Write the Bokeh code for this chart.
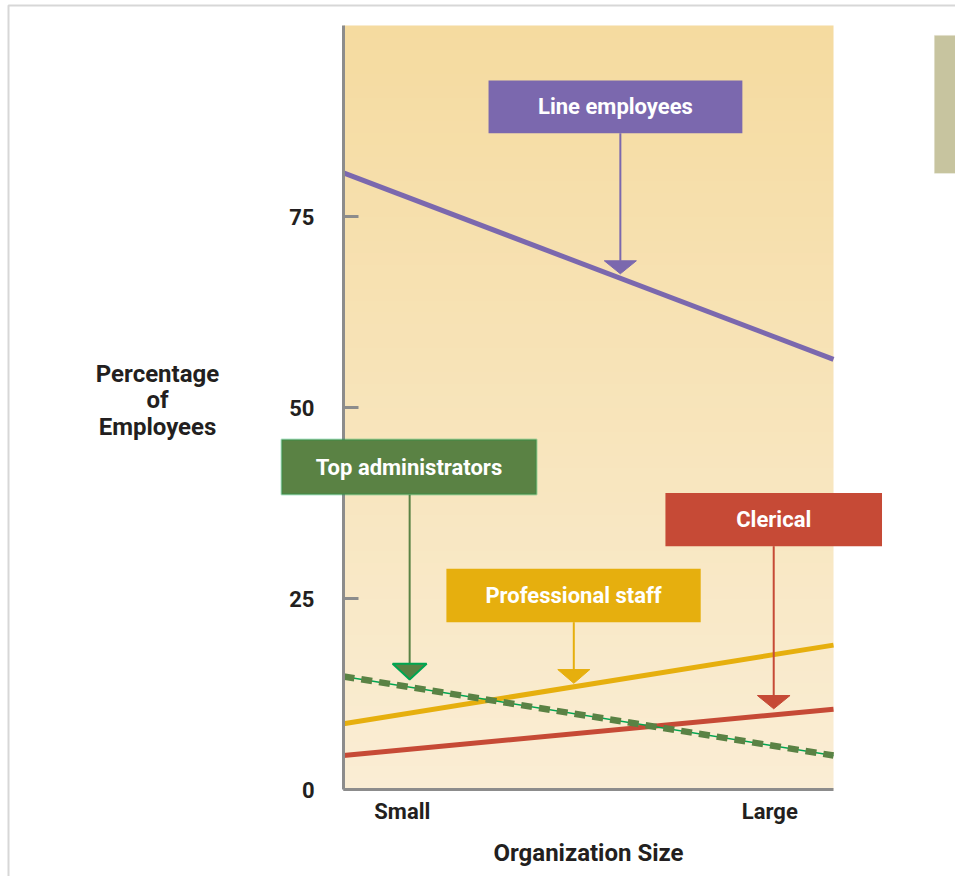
import numpy as np
from bokeh.plotting import figure
from bokeh.models import Range1d, FixedTicker, BoxAnnotation, Label
from bokeh.embed import file_html
from bokeh.resources import INLINE

# ---------------- data ----------------
size_x = [0, 100]                      # organization size scale (small -> large)
size_ticks = [12, 87]
size_tick_labels = ["Small", "Large"]
pct_ticks = [0, 25, 50, 75]

line_employees = [80.7, 56.3]
professional_staff = [8.6, 18.9]
clerical = [4.45, 10.5]
top_administrators = [14.8, 4.45]

series_names = ["Line employees", "Top administrators", "Professional staff", "Clerical"]

# ---------------- styling / layout ----------------
FONT = "Roboto"
PURPLE = "#7B68AE"
GOLD = "#E6AF0E"
RED = "#C64A36"
GREEN = "#5A8244"
BRIGHT_GREEN = "#00A651"
AXIS_GRAY = "#8C8C8C"
TEXT = "#231F20"

W, H = 955, 876
# plotting region (0..100 x 0..100) placed in the canvas
PX_X0, PX_X1 = 343, 833
PX_Y100, PX_Y0 = 25, 789
sx = (PX_X1 - PX_X0) / 100.0
sy = (PX_Y0 - PX_Y100) / 100.0

# callout layout: box (left, right, top, bottom), stem x, triangle top, tip, half width
callouts = [
    dict(name=series_names[0], fill=PURPLE, border=None, box=(29.6, 81.4, 92.8, 85.9),
         stem=56.5, tri_top=69.2, tip=67.5, hw=3.27),
    dict(name=series_names[1], fill=GREEN, border=BRIGHT_GREEN, box=(-12.65, 39.4, 45.8, 38.6),
         stem=13.5, tri_top=16.45, tip=14.4, hw=3.47),
    dict(name=series_names[2], fill=GOLD, border=None, box=(21.0, 72.9, 28.9, 21.9),
         stem=47.0, tri_top=15.7, tip=13.9, hw=3.27),
    dict(name=series_names[3], fill=RED, border=None, box=(65.7, 109.9, 38.8, 31.85),
         stem=87.8, tri_top=12.3, tip=10.56, hw=3.33),
]

p = figure(width=W, height=H, output_backend="svg", toolbar_location=None,
           x_range=Range1d(-PX_X0 / sx, (W - PX_X0) / sx),
           y_range=Range1d(-(H - PX_Y0) / sy, 100 + PX_Y100 / sy),
           min_border=0, min_border_left=0, min_border_right=0,
           min_border_top=0, min_border_bottom=0)
p.outline_line_color = None
p.grid.visible = False
p.background_fill_color = "white"
p.border_fill_color = "white"

# background gradient of the plotting area
n = 64
t = np.linspace(0, 1, n)
bottom_c = np.array([250, 237, 212], dtype=float)
top_c = np.array([245, 219, 160], dtype=float)
rgb = bottom_c[None, :] + (top_c - bottom_c)[None, :] * t[:, None]
img = np.empty((n, 1), dtype=np.uint32)
view = img.view(dtype=np.uint8).reshape((n, 1, 4))
view[:, 0, :3] = np.round(rgb).astype(np.uint8)
view[:, 0, 3] = 255
p.image_rgba(image=[img], x=0, y=0, dw=100, dh=100, level="image")

# series lines
p.line(size_x, line_employees, line_color=PURPLE, line_width=5)
p.line(size_x, professional_staff, line_color=GOLD, line_width=5)
p.line(size_x, clerical, line_color=RED, line_width=5)
p.line(size_x, top_administrators, line_color=BRIGHT_GREEN, line_width=1.5)
p.line(size_x, top_administrators, line_color=GREEN, line_width=6.5, line_dash="11 7")

# callouts
for c in callouts:
    l, r, tp, b = c["box"]
    p.segment(x0=[c["stem"]], y0=[b], x1=[c["stem"]], y1=[c["tri_top"]],
              line_color=c["fill"], line_width=2)
    xs = [c["stem"] - c["hw"], c["stem"] + c["hw"], c["stem"]]
    ys = [c["tri_top"], c["tri_top"], c["tip"]]
    p.patch(xs, ys, fill_color=c["fill"],
            line_color=c["border"] if c["border"] else c["fill"],
            line_width=2 if c["border"] else 1)
    p.add_layout(BoxAnnotation(left=l, right=r, top=tp, bottom=b,
                               fill_color=c["fill"], fill_alpha=1.0,
                               line_color=c["border"], line_width=2 if c["border"] else 0,
                               level="annotation"))
    p.add_layout(Label(x=(l + r) / 2, y=(tp + b) / 2, text=c["name"],
                       text_align="center", text_baseline="middle",
                       text_color="white", text_font=FONT, text_font_style="bold",
                       text_font_size="22px", level="annotation"))

# decorative frame edge and side tab
p.add_layout(BoxAnnotation(left=(8 - PX_X0) / sx, right=400, top=(PX_Y0 - 5) / sy, bottom=-200,
                           fill_alpha=0, line_color="#7A7A7A", line_width=2))
p.add_layout(BoxAnnotation(left=120.6, right=130, top=98.7, bottom=80.65,
                           fill_color="#C7C49F", fill_alpha=1.0,
                           line_color="#DAD8C0", line_width=1))

# axes (drawn at the data origin)
ya = p.yaxis[0]
ya.fixed_location = 0
ya.bounds = (0, 100)
ya.ticker = FixedTicker(ticks=pct_ticks)
ya.axis_line_color = AXIS_GRAY
ya.axis_line_width = 3
ya.major_tick_line_color = AXIS_GRAY
ya.major_tick_line_width = 3
ya.major_tick_in = 15
ya.major_tick_out = 0
ya.minor_tick_line_color = None
ya.major_label_standoff = 29
ya.major_label_text_font = FONT
ya.major_label_text_font_style = "bold"
ya.major_label_text_font_size = "22px"
ya.major_label_text_color = TEXT

xa = p.xaxis[0]
xa.fixed_location = 0
xa.bounds = (0, 100)
xa.ticker = FixedTicker(ticks=size_ticks)
xa.major_label_overrides = {k: v for k, v in zip(size_ticks, size_tick_labels)}
xa.axis_line_color = AXIS_GRAY
xa.axis_line_width = 3
xa.major_tick_line_color = None
xa.major_tick_in = 0
xa.major_tick_out = 0
xa.minor_tick_line_color = None
xa.major_label_standoff = 9
xa.major_label_text_font = FONT
xa.major_label_text_font_style = "bold"
xa.major_label_text_font_size = "22px"
xa.major_label_text_color = TEXT

# axis titles
p.add_layout(Label(x=(157 - PX_X0) / sx, y=(PX_Y0 - 400) / sy, text="Percentage\nof\nEmployees",
                   text_align="center", text_baseline="middle", text_line_height=0.95,
                   text_color=TEXT, text_font=FONT, text_font_style="bold",
                   text_font_size="24px"))
p.add_layout(Label(x=(588 - PX_X0) / sx, y=(PX_Y0 - 852) / sy, text="Organization Size",
                   text_align="center", text_baseline="middle",
                   text_color=TEXT, text_font=FONT, text_font_style="bold",
                   text_font_size="24px"))

open("out.html", "w").write(file_html(p, INLINE))
